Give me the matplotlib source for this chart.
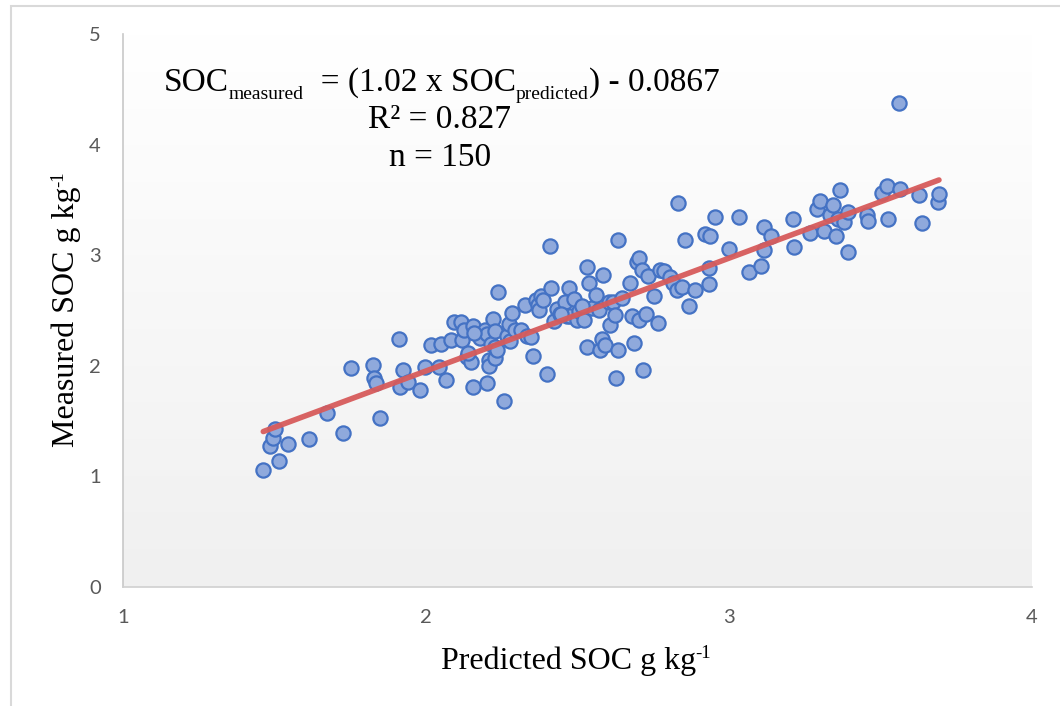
import numpy as np
import matplotlib
matplotlib.use("Agg")
import matplotlib.pyplot as plt
from matplotlib.patches import Rectangle
from matplotlib.colors import LinearSegmentedColormap

# ---- data ----
predicted = [1.463, 1.516, 1.486, 1.496, 1.500, 1.543, 1.615, 1.672, 1.725, 1.754,
             1.824, 1.827, 1.834, 1.847, 1.913, 1.910, 1.923, 1.939, 1.979, 1.996,
             2.016, 2.049, 2.042, 2.065, 2.082, 2.092, 2.115, 2.118, 2.125, 2.135,
             2.148, 2.154, 2.154, 2.178, 2.194, 2.201, 2.207, 2.214, 2.201, 2.207,
             2.221, 2.227, 2.227, 2.227, 2.234, 2.237, 2.257, 2.267, 2.274, 2.277,
             2.283, 2.293, 2.313, 2.326, 2.333, 2.346, 2.353, 2.363, 2.369, 2.373,
             2.379, 2.386, 2.399, 2.409, 2.412, 2.422, 2.432, 2.442, 2.458, 2.465,
             2.472, 2.475, 2.488, 2.498, 2.505, 2.521, 2.531, 2.531, 2.538, 2.548,
             2.561, 2.571, 2.574, 2.581, 2.584, 2.591, 2.604, 2.607, 2.617, 2.624,
             2.627, 2.634, 2.634, 2.647, 2.674, 2.680, 2.687, 2.696, 2.703, 2.703,
             2.713, 2.717, 2.726, 2.733, 2.753, 2.766, 2.773, 2.786, 2.806, 2.816,
             2.829, 2.833, 2.846, 2.856, 2.869, 2.889, 2.922, 2.938, 2.935, 2.935,
             2.955, 3.001, 3.034, 3.067, 3.104, 3.114, 3.117, 3.140, 3.210, 3.213,
             3.266, 3.289, 3.299, 3.312, 3.332, 3.342, 3.352, 3.359, 3.365, 3.392,
             3.379, 3.392, 3.455, 3.458, 3.504, 3.521, 3.524, 3.564, 3.560, 3.627,
             3.637, 3.690, 3.693, 2.157, 2.140, 2.445, 2.515]
measured = [1.058, 1.139, 1.275, 1.347, 1.429, 1.293, 1.338, 1.573, 1.392, 1.980,
            2.007, 1.890, 1.844, 1.528, 1.808, 2.242, 1.962, 1.853, 1.781, 1.989,
            2.188, 2.197, 1.989, 1.872, 2.233, 2.396, 2.396, 2.233, 2.324, 2.080,
            2.034, 2.360, 1.808, 2.251, 2.324, 2.288, 2.052, 2.197, 1.844, 1.998,
            2.423, 2.315, 2.170, 2.071, 2.143, 2.667, 1.682, 2.269, 2.378, 2.224,
            2.477, 2.324, 2.324, 2.550, 2.269, 2.260, 2.089, 2.595, 2.550, 2.505,
            2.631, 2.595, 1.926, 3.083, 2.703, 2.405, 2.514, 2.469, 2.577, 2.450,
            2.703, 2.450, 2.604, 2.414, 2.495, 2.414, 2.893, 2.170, 2.749, 2.523,
            2.640, 2.505, 2.143, 2.242, 2.821, 2.188, 2.577, 2.369, 2.577, 2.460,
            1.890, 3.138, 2.143, 2.613, 2.749, 2.450, 2.206, 2.939, 2.975, 2.414,
            2.866, 1.962, 2.469, 2.812, 2.631, 2.387, 2.866, 2.857, 2.803, 2.749,
            2.685, 3.472, 2.712, 3.138, 2.541, 2.685, 3.192, 3.174, 2.884, 2.740,
            3.345, 3.056, 3.345, 2.848, 2.902, 3.255, 3.047, 3.174, 3.327, 3.074,
            3.201, 3.418, 3.490, 3.219, 3.363, 3.454, 3.174, 3.327, 3.590, 3.029,
            3.300, 3.391, 3.363, 3.309, 3.562, 3.626, 3.327, 3.599, 4.376, 3.544,
            3.291, 3.481, 3.553, 2.300, 2.120, 2.470, 2.540]

slope = 1.02
intercept = -0.0867
x_ticks = [1, 2, 3, 4]
y_ticks = [0, 1, 2, 3, 4, 5]

serif = ['Liberation Serif', 'DejaVu Serif']
tickfont = ['Lato', 'DejaVu Sans']

W, H = 1060, 706
fig = plt.figure(figsize=(W / 100, H / 100), dpi=100)
ax = fig.add_axes([123 / W, 1 - 587 / H, (1032 - 123) / W, (587 - 34) / H])

# outer chart border
fig.patches.append(Rectangle((11 / W, -0.01), 1.05, 1 - 6 / H + 0.01,
                             transform=fig.transFigure, fill=False,
                             edgecolor='#d9d9d9', linewidth=1.5))

# gradient background of plot area (light grey at bottom -> white at top)
grad = np.linspace(0, 1, 256).reshape(-1, 1)
cmap = LinearSegmentedColormap.from_list('g', ['#f0f0f0', '#ffffff'])
ax.imshow(grad, aspect='auto', cmap=cmap, extent=[1, 4, 0, 5],
          origin='lower', zorder=0)
ax.set_xlim(1, 4)
ax.set_ylim(0, 5)

ax.scatter(predicted, measured, s=105, facecolor='#8fa9dc', edgecolor='#4472c4',
           linewidth=1.6, zorder=3)

xl = np.array([min(predicted), max(predicted)])
ax.plot(xl, slope * xl + intercept, color='#d75b5b', linewidth=4,
        solid_capstyle='round', zorder=4, alpha=0.95)

for s in ['top', 'right']:
    ax.spines[s].set_visible(False)
ax.spines['left'].set_color('#c8c8c8')
ax.spines['bottom'].set_color('#d0d0d0')
ax.spines['left'].set_linewidth(1.2)
ax.spines['bottom'].set_linewidth(1.2)

ax.set_xticks(x_ticks)
ax.set_yticks(y_ticks)
ax.tick_params(length=0, labelsize=14.5, labelcolor='#595959')
ax.tick_params(axis='x', pad=16)
ax.tick_params(axis='y', pad=16)
for lab in ax.get_xticklabels() + ax.get_yticklabels():
    lab.set_family(tickfont)

renderer = fig.canvas.get_renderer()


def rich(x_px, y_px, pieces, align='left', vertical=False):
    """pieces: (text, fontsize, baseline shift in px, positive = up)."""
    widths = []
    for txt, size, _ in pieces:
        t = fig.text(0, 0, txt, family=serif, fontsize=size)
        widths.append(t.get_window_extent(renderer).width)
        t.remove()
    total = sum(widths)
    start = {'left': 0, 'center': -total / 2}[align]
    pos = start
    for (txt, size, dy), w in zip(pieces, widths):
        if vertical:
            px, py = x_px - dy, y_px - pos
            fig.text(px / W, 1 - py / H, txt, family=serif, fontsize=size,
                     rotation=90, rotation_mode='anchor', ha='left', va='baseline')
        else:
            px, py = x_px + pos, y_px - dy
            fig.text(px / W, 1 - py / H, txt, family=serif, fontsize=size,
                     ha='left', va='baseline')
        pos += w


# axis titles
rich(576, 669, [('Predicted SOC g kg', 23, 0), ('-1', 13.5, 11)], align='center')
rich(74, 309, [('Measured SOC g kg', 23, 0), ('-1', 13.5, 11)], align='center',
     vertical=True)

# equation block
rich(164, 91, [('SOC', 24, 0), ('measured', 14, -8),
               ('  = (1.02 x SOC', 24, 0), ('predicted', 14, -8),
               (') - 0.0867', 24, 0)])
rich(440, 128, [('R² = 0.827', 24, 0)], align='center')
rich(440, 166, [('n = 150', 24, 0)], align='center')

fig.savefig('out.png', dpi=100)
